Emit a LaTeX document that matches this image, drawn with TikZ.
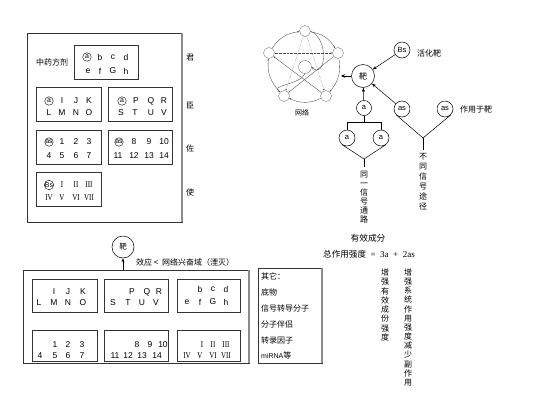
\documentclass[tikz,border=0pt]{standalone}
\usepackage{fontspec}
\setmainfont{Liberation Serif}
\newfontfamily\cjk{Noto Sans CJK SC}
\newfontfamily\lsans{Liberation Sans}
\newfontfamily\rmcond[FakeStretch=0.78]{Liberation Serif}
\usetikzlibrary{arrows.meta}
\begin{document}
\begin{tikzpicture}[x=1pt,y=-1pt,
  box/.style={draw=black!80, line width=0.6pt},
  shadowedge/.style={draw=black!45, line width=1.3pt},
  lt/.style={font=\lsans\fontsize{8.5}{9}\selectfont, inner sep=0pt},
  rm/.style={font=\rmcond\fontsize{9}{9}\selectfont, inner sep=0pt},
  cj/.style={font=\cjk\fontsize{8}{9}\selectfont, inner sep=0pt},
  circ/.style={circle, draw, inner sep=0pt, minimum size=8.5pt, font=\lsans\fontsize{7}{7}\selectfont},
  bigc/.style={circle, draw, line width=0.5pt, inner sep=0pt, font=\lsans\fontsize{7.5}{8}\selectfont},
  netn/.style={circle, draw=black!60, line width=0.3pt, inner sep=0pt, minimum size=11pt},
  arr/.style={-{Stealth[length=4pt,width=3pt]}, line width=0.5pt},
  narr/.style={-{Stealth[length=2pt,width=1.6pt]}, line width=0.35pt, draw=black!70},
  ln/.style={line width=0.5pt}
]
\useasboundingbox (0,0) rectangle (541,405);

% ---------- top-left frame ----------
\draw[box] (27,33) rectangle (182,222);
\draw[shadowedge] (182,33) -- (182,222);
\node[cj] (zyfj) at (52,62) {中药方剂};
\draw[box] (74,45) rectangle (138,79);
\draw[box] (36,87) rectangle (101,121);
\draw[box] (108,87) rectangle (172,121);
\draw[box] (36,130) rectangle (101,164);
\draw[box] (108,130) rectangle (172,164);
\draw[box] (36,172) rectangle (101,206);

\node[cj] (jun) at (190,58) {君};
\node[cj] (chen) at (190,105) {臣};
\node[cj] (zuo) at (190,148) {佐};
\node[cj] (shi) at (190,192) {使};

% box 1
\node[circ] (c1) at (87,57) {a};
\foreach \t/\x/\y [count=\i] in {b/100/57,c/113/57,d/126/57,e/88/71,f/100/71,G/113/71,h/126/71}
  \node[lt] (ta\i) at (\x,\y) {\t};
% box 2
\node[circ] (c2) at (49,101) {a};
\foreach \t/\x/\y [count=\i] in {I/62/101,J/76/101,K/89/101,L/49/113,M/62/113,N/76/113,O/89/113}
  \node[lt] (tb\i) at (\x,\y) {\t};
% box 3
\node[circ] (c3) at (122,101) {a};
\foreach \t/\x/\y [count=\i] in {P/136/101,Q/151/101,R/164/101,S/121/113,T/135/113,U/151/113,V/164/113}
  \node[lt] (tc\i) at (\x,\y) {\t};
% box 4
\node[circ] (c4) at (49,142) {as};
\foreach \t/\x/\y [count=\i] in {1/62/142,2/76/142,3/89/142,4/49/156,5/62/156,6/76/156,7/89/156}
  \node[lt] (td\i) at (\x,\y) {\t};
% box 5
\node[circ] (c5) at (119,142) {as};
\foreach \t/\x/\y [count=\i] in {8/134/142,9/149/142,10/164/142,11/118/156,12/134/156,13/149/156,14/164/156}
  \node[lt] (te\i) at (\x,\y) {\t};
% box 6
\node[circ] (c6) at (49,185) {Bs};
\foreach \t/\x/\y [count=\i] in {I/62/185,II/76/185,III/89/185,IV/49/198,V/62/198,VI/76/198,VII/89/198}
  \node[rm] (tf\i) at (\x,\y) {\t};

% ---------- network ----------
\node[netn] (nT) at (305,31) {};
\node[netn] (nRU) at (338,53) {};
\node[netn] (nRL) at (326,96) {};
\node[netn] (nLL) at (284,96) {};
\node[netn] (nLU) at (269,53) {};
\node[netn, minimum size=13pt] (nC) at (305,67) {};
\draw[narr] (nT) to[bend left=25] (nRU);
\draw[narr] (nRU) to[bend left=25] (nRL);
\draw[narr] (nRL) to[bend left=25] (nLL);
\draw[narr] (nLL) to[bend left=25] (nLU);
\draw[narr] (nLU) to[bend left=25] (nT);
\draw[narr, densely dotted] (nLU) -- (nRU);
\draw[narr, densely dotted] (nT) -- (nRL);
\draw[narr, densely dotted] (nT) -- (nLL);
\draw[narr] (nRU) -- (nLL);
\draw[narr] (nRL) -- (nLU);
\draw[narr] (nT.east) .. controls (330,40) and (325,80) .. (nC.east);
\draw[narr] (nC.south) .. controls (300,85) and (270,85) .. (nLL.north west);
\node[cj, font=\cjk\fontsize{7}{8}\selectfont] (wl) at (302,113) {网络};

% ---------- target and pathways ----------
\node[bigc, minimum size=23pt, font=\cjk\fontsize{8}{9}\selectfont] (M) at (363,76) {靶};
\coordinate (netR) at (341,76);
\draw[-{Stealth[length=4pt,width=3.5pt]}, line width=1pt] (M.west) -- (netR);
\node[bigc, minimum size=16pt] (Bs) at (402,50) {Bs};
\node[cj, anchor=west] (hhb) at (417,53) {活化靶};
\draw[arr] (Bs) -- (M);

\node[bigc, minimum size=15pt] (A0) at (364,108) {a};
\node[bigc, minimum size=16pt] (A1) at (347,138) {a};
\node[bigc, minimum size=16pt] (A2) at (381,138) {a};
\draw[arr] (A0) -- (M);
\coordinate (br) at (364,122);
\coordinate (brL) at (347,122);
\coordinate (brR) at (381,122);
\draw[ln] (A0.south) -- (br);
\draw[ln] (brL) -- (brR);
\draw[ln] (brL) -- (A1.north);
\draw[ln] (brR) -- (A2.north);
\coordinate (j1) at (364,159);
\coordinate (j1s) at (364,167);
\draw[ln] (A1.-125) -- (j1) -- (A2.-55);
\draw[ln] (j1) -- (j1s);
\node[cj, anchor=north, align=center, font=\cjk\fontsize{8}{9}\selectfont] (tyxh) at (364,170.5) {同\\一\\信\\号\\通\\路};

\node[bigc, minimum size=16pt] (AS1) at (402,109) {as};
\node[bigc, minimum size=16pt] (AS2) at (445,109) {as};
\draw[ln, double, double distance=1.2pt] (AS1) -- (AS2);
\draw[arr] (AS1) -- (M);
\coordinate (j2) at (423,138);
\coordinate (j2s) at (423,150);
\draw[ln] (AS1.-135) -- (j2) -- (AS2.-45);
\draw[ln] (j2) -- (j2s);
\node[cj, anchor=west] (zyyb) at (460,109) {作用于靶};
\node[cj, anchor=north, align=center, font=\cjk\fontsize{8}{10}\selectfont] (btxh) at (423,153) {不\\同\\信\\号\\途\\径};

\node[cj, font=\cjk\fontsize{8.7}{9}\selectfont] (yxcf) at (368,238) {有效成分};
\node[inner sep=0pt] (zzy) at (369,254) {{\cjk\fontsize{8.6}{9}\selectfont 总作用强度}{\fontsize{9}{9}\selectfont\ \ =\ \ 3a\ \ +\ \ 2as}};

\node[cj, anchor=north, align=center, font=\cjk\fontsize{8}{9.3}\selectfont] (v1) at (385,268.5) {增\\强\\有\\效\\成\\份\\强\\度};
\node[cj, anchor=north, align=center, font=\cjk\fontsize{8}{9.17}\selectfont] (v2) at (408,268.5) {增\\强\\系\\统\\作\\用\\强\\度\\减\\少\\副\\作\\用};

% ---------- bottom ----------
\node[bigc, minimum size=22pt, font=\cjk\fontsize{7.5}{8}\selectfont] (M2) at (123,247) {靶};
\coordinate (btop) at (123,270);
\draw[arr] (btop) -- (M2);
\node[cj, anchor=west] (xy) at (136,262) {效应 <\ \ 网络兴奋域（湮灭）};

\draw[box] (23,270) rectangle (249,363);
\draw[shadowedge] (249,270) -- (249,363);
\draw[box] (32,279) rectangle (97,312);
\draw[box] (104,279) rectangle (168,312);
\draw[box] (177,279) rectangle (240,312);
\draw[box] (32,330) rectangle (97,361);
\draw[box] (104,330) rectangle (168,361);
\draw[box] (177,330) rectangle (240,361);

\foreach \t/\x/\y [count=\i] in {I/54/292,J/68/292,K/83/292,L/39/303,M/54/303,N/68/303,O/83/303}
  \node[lt] (ua\i) at (\x,\y) {\t};
\foreach \t/\x/\y [count=\i] in {P/132/292,Q/147/292,R/159/292,S/113/303,T/128/303,U/142/303,V/156/303}
  \node[lt] (ub\i) at (\x,\y) {\t};
\foreach \t/\x/\y [count=\i] in {b/200/289,c/213/289,d/226/289,e/187/302,f/200/302,G/213/302,h/226/302}
  \node[lt] (uc\i) at (\x,\y) {\t};
\foreach \t/\x/\y [count=\i] in {1/55/345,2/68/345,3/82/345,4/40/356,5/55/356,6/68/356,7/82/356}
  \node[lt] (ud\i) at (\x,\y) {\t};
\foreach \t/\x/\y [count=\i] in {8/137/345,9/150/345,10/163/345,11/115/356,12/128/356,13/142/356,14/157/356}
  \node[lt] (ue\i) at (\x,\y) {\t};
\foreach \t/\x/\y [count=\i] in {I/202/345,II/213/345,III/226/345,IV/187/356,V/200/356,VI/213/356,VII/226/356}
  \node[rm] (uf\i) at (\x,\y) {\t};

\draw[box] (258,268) rectangle (322,363);
\draw[shadowedge] (322,268) -- (322,363);
\node[cj, anchor=west] (o1) at (261,276) {其它：};
\node[cj, anchor=west] (o2) at (261,292) {底物};
\node[cj, anchor=west] (o3) at (261,308) {信号转导分子};
\node[cj, anchor=west] (o4) at (261,324) {分子伴侣};
\node[cj, anchor=west] (o5) at (261,340) {转录因子};
\node[cj, anchor=west] (o6) at (261,355) {{\fontsize{7}{8}\selectfont\lsans miRNA}等};
\end{tikzpicture}
\end{document}
